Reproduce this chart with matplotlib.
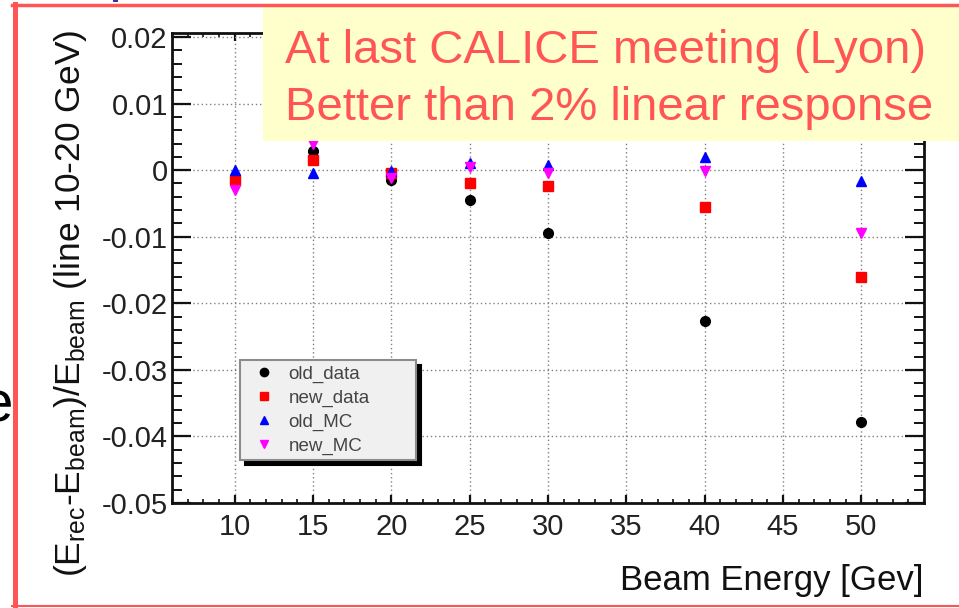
import matplotlib
matplotlib.use("Agg")
import matplotlib.pyplot as plt
from matplotlib.ticker import MultipleLocator, FuncFormatter
from matplotlib.patches import Rectangle
from matplotlib.lines import Line2D

# ---- data ----
energies = [10, 15, 20, 25, 30, 40, 50]
old_data = [-0.0018, 0.0029, -0.0015, -0.0045, -0.0095, -0.0226, -0.0378]
new_data = [-0.0015, 0.0015, -0.0005, -0.0020, -0.0024, -0.0055, -0.0160]
old_MC = [0.0000, -0.0005, -0.0002, 0.0010, 0.0007, 0.0020, -0.0016]
new_MC = [-0.0030, 0.0040, -0.0012, 0.0005, -0.0005, -0.0001, -0.0095]
series_names = ["old_data", "new_data", "old_MC", "new_MC"]
note_lines = ["At last CALICE meeting (Lyon)", "Better than 2% linear response"]

plt.rcParams['font.family'] = ['Liberation Sans', 'DejaVu Sans']
plt.rcParams['mathtext.fontset'] = 'custom'
plt.rcParams['mathtext.rm'] = 'Liberation Sans'
plt.rcParams['mathtext.it'] = 'Liberation Sans:italic'
plt.rcParams['axes.unicode_minus'] = False

W, H = 959, 608
fig = plt.figure(figsize=(W / 100, H / 100), dpi=100)
fig.patch.set_facecolor('white')

L, R, T, B = 172, 924, 33, 503
ax = fig.add_axes([L / W, (H - B) / H, (R - L) / W, (B - T) / H])

styles = [
    dict(marker='o', color='black', ms=7),
    dict(marker='s', color='#ff0000', ms=7),
    dict(marker='^', color='#0000ff', ms=7),
    dict(marker='v', color='#ff00ff', ms=7),
]
for vals, name, st in zip([old_data, new_data, old_MC, new_MC], series_names, styles):
    ax.plot(energies, vals, linestyle='none', label=name, zorder=3, **st)

ax.set_xlim(6, 54)
ax.set_ylim(-0.05, 0.0206)

ax.xaxis.set_major_locator(MultipleLocator(5))
ax.xaxis.set_minor_locator(MultipleLocator(1))
ax.yaxis.set_major_locator(MultipleLocator(0.01))
ax.yaxis.set_minor_locator(MultipleLocator(0.002))
ax.yaxis.set_major_formatter(FuncFormatter(lambda v, p: "0" if abs(v) < 1e-9 else f"{v:.2f}"))
ax.xaxis.set_major_formatter(FuncFormatter(lambda v, p: f"{v:.0f}"))

ax.grid(True, which='major', color='#808080', linestyle=(0, (1, 2)), linewidth=1.0)

for s in ax.spines.values():
    s.set_linewidth(2.0)
    s.set_color('#111111')

ax.tick_params(axis='both', which='both', direction='in', top=True, right=True,
               colors='#111111', labelcolor='#222222')
ax.tick_params(axis='y', which='major', length=14, width=1.6, labelsize=21, pad=3)
ax.tick_params(axis='y', which='minor', length=7, width=1.4)
ax.tick_params(axis='x', which='major', length=6, width=1.6, labelsize=21, pad=7)
ax.tick_params(axis='x', which='minor', length=3, width=1.2)

ax.set_ylabel(r'(E$_{\mathrm{rec}}$-E$_{\mathrm{beam}}$)/E$_{\mathrm{beam}}$ (line 10-20 GeV)',
              fontsize=25.5, color='#111111')
ax.yaxis.set_label_coords((89 - L) / (R - L), (B - 303) / (B - T))

ax.set_xlabel('Beam Energy [Gev]', fontsize=25, color='#111111', loc='right')
ax.xaxis.label.set_va('baseline')
ax.xaxis.set_label_coords(1.0, (B - 590) / (B - T))

leg = ax.legend(loc='upper left',
                bbox_to_anchor=((240 - L) / (R - L), (B - 360) / (B - T), (416 - 240) / (R - L), 0.0),
                mode='expand', borderaxespad=0, fontsize=13.5, numpoints=1,
                handlelength=2.0, handletextpad=0.3, labelspacing=0.36, borderpad=0.28,
                frameon=True, fancybox=False, facecolor='#f0f0f0', edgecolor='#8c8c8c',
                framealpha=1, shadow={'ox': 3.8, 'oy': -3.8, 'color': 'black', 'alpha': 1})
leg.get_frame().set_linewidth(1.5)
for t in leg.get_texts():
    t.set_color('#444444')
for h in leg.legend_handles:
    h.set_markersize(6)

# yellow note box
fig.add_artist(Rectangle((263 / W, (H - 141) / H), (W - 263) / W, 134 / H,
                         transform=fig.transFigure, facecolor='#ffffcc', edgecolor='none', zorder=5))
fig.text(285 / W, (H - 63) / H, note_lines[0], fontsize=34, color='#ff5555', va='baseline', zorder=6)
fig.text(285 / W, (H - 120) / H, note_lines[1], fontsize=34, color='#ff5555', va='baseline', zorder=6)

# slide fragments: clipped letter and red frame
fig.text(13 / W, (H - 422) / H, 'e', fontsize=42, color='black', ha='right', va='baseline')
fig.add_artist(Line2D([14.5 / W, 14.5 / W], [0, (H - 4) / H], transform=fig.transFigure,
                      color='#ff5555', linewidth=3.6, zorder=7))
fig.add_artist(Line2D([12 / W, 1.0], [(H - 5) / H, (H - 5) / H], transform=fig.transFigure,
                      color='#ff5555', linewidth=2.5, zorder=7))
fig.add_artist(Line2D([12 / W, 1.0], [(H - 606) / H, (H - 606) / H], transform=fig.transFigure,
                      color='#ff5555', linewidth=1.5, zorder=7))
fig.add_artist(Rectangle((113 / W, (H - 2) / H), 5 / W, 2 / H, transform=fig.transFigure,
                         facecolor='#3333aa', edgecolor='none', zorder=7))

fig.savefig('out.png', dpi=100)
